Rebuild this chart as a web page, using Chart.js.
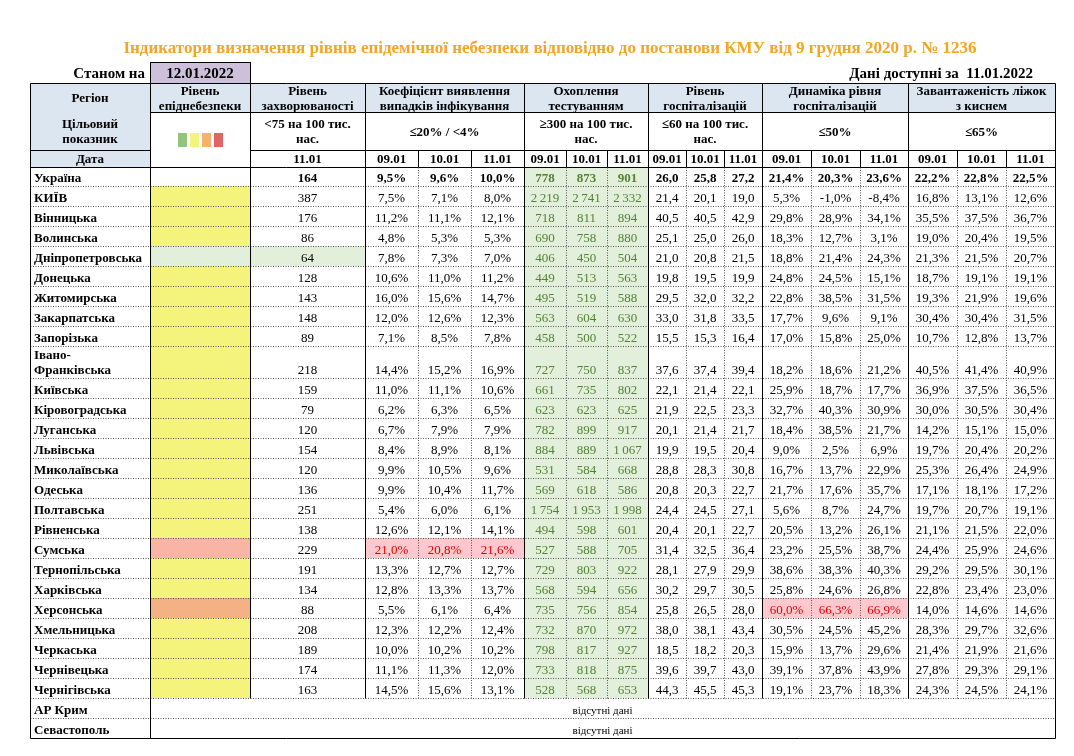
<!DOCTYPE html>
<html>
<head>
<meta charset="utf-8">
<script src="https://cdn.jsdelivr.net/npm/chart.js@4.4.1/dist/chart.umd.min.js"></script>
<style>
  body { margin: 0; background: #fff; }
  canvas { display: block; }
</style>
</head>
<body>
<canvas id="tableChart" width="1074" height="756"></canvas>
<script>
// Дані таблиці
let regions = ['КИЇВ', 'Вінницька', 'Волинська', 'Дніпропетровська', 'Донецька', 'Житомирська', 'Закарпатська', 'Запорізька',
  'Івано-\nФранківська', 'Київська', 'Кіровоградська', 'Луганська', 'Львівська', 'Миколаївська', 'Одеська', 'Полтавська',
  'Рівненська', 'Сумська', 'Тернопільська', 'Харківська', 'Херсонська', 'Хмельницька', 'Черкаська', 'Чернівецька', 'Чернігівська'];
// Рівень епіднебезпеки: y - жовтий, g - зелений, r - червоний, o - помаранчевий
let dangerLevel = ['y','y','y','g','y','y','y','y','y','y','y','y','y','y','y','y','y','r','y','y','o','y','y','y','y'];
let incidence = [387, 176, 86, 64, 128, 143, 148, 89, 218, 159, 79, 120, 154, 120, 136, 251, 138, 229, 191, 134, 88, 208, 189, 174, 163];
let coef09 = [7.5, 11.2, 4.8, 7.8, 10.6, 16.0, 12.0, 7.1, 14.4, 11.0, 6.2, 6.7, 8.4, 9.9, 9.9, 5.4, 12.6, 21.0, 13.3, 12.8, 5.5, 12.3, 10.0, 11.1, 14.5];
let coef10 = [7.1, 11.1, 5.3, 7.3, 11.0, 15.6, 12.6, 8.5, 15.2, 11.1, 6.3, 7.9, 8.9, 10.5, 10.4, 6.0, 12.1, 20.8, 12.7, 13.3, 6.1, 12.2, 10.2, 11.3, 15.6];
let coef11 = [8.0, 12.1, 5.3, 7.0, 11.2, 14.7, 12.3, 7.8, 16.9, 10.6, 6.5, 7.9, 8.1, 9.6, 11.7, 6.1, 14.1, 21.6, 12.7, 13.7, 6.4, 12.4, 10.2, 12.0, 13.1];
let test09 = [2219, 718, 690, 406, 449, 495, 563, 458, 727, 661, 623, 782, 884, 531, 569, 1754, 494, 527, 729, 568, 735, 732, 798, 733, 528];
let test10 = [2741, 811, 758, 450, 513, 519, 604, 500, 750, 735, 623, 899, 889, 584, 618, 1953, 598, 588, 803, 594, 756, 870, 817, 818, 568];
let test11 = [2332, 894, 880, 504, 563, 588, 630, 522, 837, 802, 625, 917, 1067, 668, 586, 1998, 601, 705, 922, 656, 854, 972, 927, 875, 653];
let hosp09 = [21.4, 40.5, 25.1, 21.0, 19.8, 29.5, 33.0, 15.5, 37.6, 22.1, 21.9, 20.1, 19.9, 28.8, 20.8, 24.4, 20.4, 31.4, 28.1, 30.2, 25.8, 38.0, 18.5, 39.6, 44.3];
let hosp10 = [20.1, 40.5, 25.0, 20.8, 19.5, 32.0, 31.8, 15.3, 37.4, 21.4, 22.5, 21.4, 19.5, 28.3, 20.3, 24.5, 20.1, 32.5, 27.9, 29.7, 26.5, 38.1, 18.2, 39.7, 45.5];
let hosp11 = [19.0, 42.9, 26.0, 21.5, 19.9, 32.2, 33.5, 16.4, 39.4, 22.1, 23.3, 21.7, 20.4, 30.8, 22.7, 27.1, 22.7, 36.4, 29.9, 30.5, 28.0, 43.4, 20.3, 43.0, 45.3];
let dyn09 = [5.3, 29.8, 18.3, 18.8, 24.8, 22.8, 17.7, 17.0, 18.2, 25.9, 32.7, 18.4, 9.0, 16.7, 21.7, 5.6, 20.5, 23.2, 38.6, 25.8, 60.0, 30.5, 15.9, 39.1, 19.1];
let dyn10 = [-1.0, 28.9, 12.7, 21.4, 24.5, 38.5, 9.6, 15.8, 18.6, 18.7, 40.3, 38.5, 2.5, 13.7, 17.6, 8.7, 13.2, 25.5, 38.3, 24.6, 66.3, 24.5, 13.7, 37.8, 23.7];
let dyn11 = [-8.4, 34.1, 3.1, 24.3, 15.1, 31.5, 9.1, 25.0, 21.2, 17.7, 30.9, 21.7, 6.9, 22.9, 35.7, 24.7, 26.1, 38.7, 40.3, 26.8, 66.9, 45.2, 29.6, 43.9, 18.3];
let oxy09 = [16.8, 35.5, 19.0, 21.3, 18.7, 19.3, 30.4, 10.7, 40.5, 36.9, 30.0, 14.2, 19.7, 25.3, 17.1, 19.7, 21.1, 24.4, 29.2, 22.8, 14.0, 28.3, 21.4, 27.8, 24.3];
let oxy10 = [13.1, 37.5, 20.4, 21.5, 19.1, 21.9, 30.4, 12.8, 41.4, 37.5, 30.5, 15.1, 20.4, 26.4, 18.1, 20.7, 21.5, 25.9, 29.5, 23.4, 14.6, 29.7, 21.9, 29.3, 24.5];
let oxy11 = [12.6, 36.7, 19.5, 20.7, 19.1, 19.6, 31.5, 13.7, 40.9, 36.5, 30.4, 15.0, 20.2, 24.9, 17.2, 19.1, 22.0, 24.6, 30.1, 23.0, 14.6, 32.6, 21.6, 29.1, 24.1];
// Україна загалом
let ukraine = { incidence: 164, coef: [9.5, 9.6, 10.0], test: [778, 873, 901], hosp: [26.0, 25.8, 27.2], dyn: [21.4, 20.3, 23.6], oxy: [22.2, 22.8, 22.5] };
let missingRegions = ['АР Крим', 'Севастополь'];
let dates = ['09.01', '10.01', '11.01'];

// Розмітка: ширини колонок та висоти рядків
let colWidths = [120, 100, 115, 53, 53, 53, 42, 41, 41, 38, 38, 38, 49, 49, 48, 49, 49, 49];
let headRows = [29, 38, 17];
let colEdges = [0];
colWidths.forEach(w => colEdges.push(colEdges[colEdges.length - 1] + w));
let rowHeights = headRows.concat([19], regions.map(r => r.includes('\n') ? 32 : 20), [20, 20]);
let rowEdges = [0];
rowHeights.forEach(h => rowEdges.push(rowEdges[rowEdges.length - 1] + h));

let SERIF = '"Liberation Serif", "DejaVu Serif", serif';
let HEAD_BG = '#dce6f1', TEST_BG = '#e2efda', TEST_FG = '#548235', YELLOW = '#f4f47c';
let PINK_BG = '#ffc7ce', PINK_FG = '#e00000';
let levelColors = { y: YELLOW, g: TEST_BG, r: '#f8b4a4', o: '#f4b183' };

let pct = v => v.toFixed(1).replace('.', ',') + '%';
let dec = v => v.toFixed(1).replace('.', ',');
let thou = v => v >= 1000 ? Math.floor(v / 1000) + '\u2009' + String(v % 1000).padStart(3, '0') : String(v);

let tablePlugin = {
  id: 'tablePlugin',
  afterDatasetsDraw(chart) {
    let ctx = chart.ctx, xs = chart.scales.x, ys = chart.scales.y;
    let X = c => xs.getPixelForValue(colEdges[c]);
    let Y = r => ys.getPixelForValue(rowEdges[r]);

    function cell(c0, c1, r0, r1, text, o = {}) {
      let x0 = X(c0), x1 = X(c1), y0 = Y(r0), y1 = Y(r1);
      if (o.bg) { ctx.fillStyle = o.bg; ctx.fillRect(x0, y0, x1 - x0, y1 - y0); }
      if (!text) return;
      ctx.fillStyle = o.color || '#000';
      ctx.font = (o.bold ? 'bold ' : '') + (o.size || 13) + 'px ' + SERIF;
      ctx.textBaseline = 'alphabetic';
      let lines = text.split('\n'), lh = 15;
      let tx = o.align === 'left' ? x0 + 4 : (x0 + x1) / 2;
      ctx.textAlign = o.align === 'left' ? 'left' : 'center';
      let yb = o.middle ? (y0 + y1) / 2 - (lines.length - 1) * lh / 2 + 4.5 : y1 - 4 - (lines.length - 1) * lh;
      lines.forEach((l, i) => ctx.fillText(l, tx, yb + i * lh));
    }
    function line(x0, y0, x1, y1, dotted, color) {
      ctx.save();
      ctx.strokeStyle = color || '#000';
      ctx.lineWidth = 1;
      if (dotted) ctx.setLineDash([1, 1.5]);
      ctx.beginPath();
      ctx.moveTo(Math.round(x0) + 0.5, Math.round(y0) + 0.5);
      ctx.lineTo(Math.round(x1) + 0.5, Math.round(y1) + 0.5);
      ctx.stroke();
      ctx.restore();
    }

    // Заголовок
    ctx.fillStyle = '#f4a522';
    ctx.font = 'bold 17px ' + SERIF;
    ctx.textAlign = 'center';
    ctx.fillText('Індикатори визначення рівнів епідемічної небезпеки відповідно до постанови КМУ від 9 грудня 2020 р. № 1236', 550, 53);
    ctx.fillStyle = '#ccc0da';
    ctx.fillRect(X(1), Y(0) - 21, X(2) - X(1), 21);
    ctx.strokeStyle = '#000';
    ctx.strokeRect(Math.round(X(1)) + 0.5, Math.round(Y(0) - 21) + 0.5, X(2) - X(1), 21);
    ctx.fillStyle = '#000';
    ctx.font = 'bold 15px ' + SERIF;
    ctx.fillText('12.01.2022', (X(1) + X(2)) / 2, Y(0) - 5);
    ctx.textAlign = 'right';
    ctx.fillText('Станом на', X(1) - 5, Y(0) - 5);
    ctx.fillText('Дані доступні за  11.01.2022', X(18) - 22, Y(0) - 5);

    // Шапка таблиці
    let h = { bg: HEAD_BG, bold: true, middle: true };
    cell(0, 1, 0, 2, '', { bg: HEAD_BG });
    cell(0, 1, 0, 1, 'Регіон', { bold: true, middle: true });
    cell(0, 1, 1, 2, 'Цільовий\nпоказник', { bold: true, middle: true });
    cell(1, 2, 0, 1, 'Рівень\nепіднебезпеки', h);
    cell(2, 3, 0, 1, 'Рівень\nзахворюваності', h);
    cell(3, 6, 0, 1, 'Коефіцієнт виявлення\nвипадків інфікування', h);
    cell(6, 9, 0, 1, 'Охоплення\nтестуванням', h);
    cell(9, 12, 0, 1, 'Рівень\nгоспіталізацій', h);
    cell(12, 15, 0, 1, 'Динаміка рівня\nгоспіталізацій', h);
    cell(15, 18, 0, 1, 'Завантаженість ліжок\nз киснем', h);
    let t = { bold: true, middle: true };
    cell(2, 3, 1, 2, '<75 на 100 тис.\nнас.', t);
    cell(3, 6, 1, 2, '≤20% / <4%', t);
    cell(6, 9, 1, 2, '≥300 на 100 тис.\nнас.', t);
    cell(9, 12, 1, 2, '≤60 на 100 тис.\nнас.', t);
    cell(12, 15, 1, 2, '≤50%', t);
    cell(15, 18, 1, 2, '≤65%', t);
    cell(0, 1, 2, 3, 'Дата', h);
    cell(2, 3, 2, 3, '11.01', t);
    for (let g = 0; g < 5; g++) dates.forEach((d, i) => cell(3 + g * 3 + i, 4 + g * 3 + i, 2, 3, d, t));
    // Кольорові мітки рівнів
    let sw = ['#93c47d', '#f4f47c', '#f6b26b', '#e06666'];
    sw.forEach((c, i) => { ctx.fillStyle = c; ctx.fillRect(X(1) + 28 + i * 12, Y(1) + 21, 9, 14); });

    // Рядки з даними
    function dataRow(r, name, inc, cf, ts, hp, dy, ox, level, bold) {
      cell(0, 1, r, r + 1, name, { bold: true, align: 'left' });
      cell(1, 2, r, r + 1, '', { bg: level ? levelColors[level] : null });
      cell(2, 3, r, r + 1, String(inc), { bold, bg: inc < 75 ? TEST_BG : null });
      cf.forEach((v, i) => cell(3 + i, 4 + i, r, r + 1, pct(v), v > 20 ? { bold, bg: PINK_BG, color: PINK_FG } : { bold }));
      ts.forEach((v, i) => cell(6 + i, 7 + i, r, r + 1, thou(v), { bold, bg: TEST_BG, color: TEST_FG }));
      hp.forEach((v, i) => cell(9 + i, 10 + i, r, r + 1, dec(v), { bold }));
      dy.forEach((v, i) => cell(12 + i, 13 + i, r, r + 1, pct(v), v > 50 ? { bold, bg: PINK_BG, color: PINK_FG } : { bold }));
      ox.forEach((v, i) => cell(15 + i, 16 + i, r, r + 1, pct(v), { bold }));
    }
    dataRow(3, 'Україна', ukraine.incidence, ukraine.coef, ukraine.test, ukraine.hosp, ukraine.dyn, ukraine.oxy, null, true);
    regions.forEach((name, i) => dataRow(4 + i, name, incidence[i], [coef09[i], coef10[i], coef11[i]],
      [test09[i], test10[i], test11[i]], [hosp09[i], hosp10[i], hosp11[i]], [dyn09[i], dyn10[i], dyn11[i]],
      [oxy09[i], oxy10[i], oxy11[i]], dangerLevel[i], false));
    let mr = 4 + regions.length;
    missingRegions.forEach((name, i) => {
      cell(0, 1, mr + i, mr + i + 1, name, { bold: true, align: 'left' });
      cell(1, 18, mr + i, mr + i + 1, 'відсутні дані', { size: 11 });
    });

    // Лінії сітки
    let nRows = rowHeights.length, groups = [0, 1, 2, 3, 6, 9, 12, 15, 18];
    line(X(0), Y(0), X(18), Y(0));
    line(X(1), Y(1), X(18), Y(1));
    line(X(0), Y(2), X(1), Y(2));
    line(X(2), Y(2), X(18), Y(2));
    line(X(0), Y(3), X(18), Y(3));
    for (let r = 4; r < nRows; r++) line(X(0), Y(r), X(18), Y(r), true, '#555');
    line(X(0), Y(nRows), X(18), Y(nRows));
    groups.forEach(c => line(X(c), Y(0), X(c), Y(c === 0 || c === 18 || c === 1 ? nRows : mr)));
    for (let c = 3; c < 18; c++) {
      if (groups.includes(c)) continue;
      line(X(c), Y(2), X(c), Y(3));
      line(X(c), Y(3), X(c), Y(mr), true, '#555');
    }
  }
};

let config = {
  type: 'scatter',
  data: { datasets: [{ data: [] }] },
  options: {
    responsive: false,
    animation: false,
    layout: { padding: { left: 30, right: 19, top: 83, bottom: 18 } },
    scales: {
      x: { type: 'linear', min: 0, max: colEdges[colEdges.length - 1], display: false },
      y: { type: 'linear', min: 0, max: rowEdges[rowEdges.length - 1], reverse: true, display: false }
    },
    plugins: { legend: { display: false }, tooltip: { enabled: false } }
  },
  plugins: [tablePlugin]
};

let ctx = document.getElementById('tableChart').getContext('2d');
let tableChart = new Chart(ctx, config);
</script>
</body>
</html>
